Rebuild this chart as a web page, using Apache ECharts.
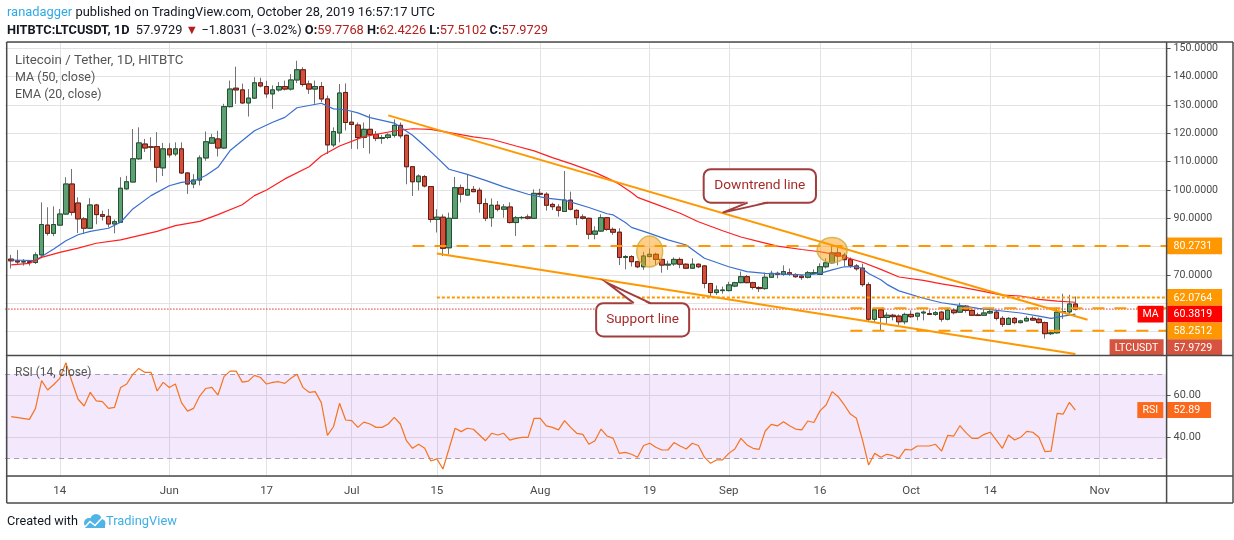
<!DOCTYPE html>
<html><head><meta charset="utf-8">
<script src="https://cdn.jsdelivr.net/npm/echarts@6/dist/echarts.min.js"></script>
<style>html,body{margin:0;padding:0;background:#fff;}#c{width:1234px;height:540px;}</style>
</head><body><div id="c"></div>
<script>
const FONT = "Roboto, 'Noto Sans', sans-serif";

// ---- categories: first category 2019-05-05 (empty), candles start 2019-05-06
const axisStart = '2019-05-05';
const axisDays = 192;
const tickDates = ['2019-05-14','2019-06-01','2019-06-17','2019-07-01','2019-07-15','2019-08-01','2019-08-19','2019-09-01','2019-09-16','2019-10-01','2019-10-14','2019-11-01'];
const tickLabels = ['14','Jun','17','Jul','15','Aug','19','Sep','16','Oct','14','Nov'];

// ---- OHLC, daily from 2019-05-06 to 2019-10-28
const open = [75.6,75.0,74.6,74.7,74.4,77.1,87.6,84.7,87.6,91.5,102.1,95.4,89.8,86.5,94.7,91.3,90.7,88.0,88.6,100.4,
102.8,111.0,116.2,115.2,115.3,107.8,114.5,112.7,114.5,106.0,102.1,103.5,111.3,116.5,118.0,114.8,129.4,135.9,135.3,130.7,
132.4,137.8,136.5,133.9,135.3,136.5,135.6,138.8,142.4,137.4,135.6,136.5,132.1,115.9,120.1,134.4,123.9,122.9,118.5,121.4,
119.6,118.2,118.5,119.3,122.8,119.3,108.2,102.9,104.7,101.2,89.6,90.4,79.6,90.0,100.8,98.2,100.2,99.9,95.2,90.2,
94.6,93.2,94.0,88.5,90.2,90.5,90.0,98.8,98.5,94.9,94.0,92.4,96.4,92.8,90.5,90.0,84.4,85.5,90.2,86.1,
85.1,76.2,76.5,74.7,72.9,76.5,77.3,75.5,73.5,73.9,75.5,73.8,72.4,73.8,73.2,67.0,63.8,64.5,64.5,66.1,
67.3,69.4,67.3,65.6,65.2,69.2,70.6,70.2,70.8,70.2,69.6,69.2,70.6,70.2,72.9,74.3,77.8,77.0,75.4,73.2,
72.4,66.6,54.4,57.7,55.0,55.8,55.5,53.5,56.1,55.5,56.6,56.4,56.1,56.9,54.4,57.6,56.9,59.0,57.5,55.9,
55.8,56.6,56.9,54.7,52.6,54.7,53.2,53.8,54.7,54.4,53.2,49.3,49.6,56.9,57.0,59.7768];
const high = [77.1,78.8,75.6,75.3,78.0,95.6,93.9,94.2,93.3,104.5,107.4,97.4,90.4,97.1,95.1,92.7,93.3,89.6,104.5,105.0,
121.5,122.1,118.0,118.6,120.4,116.6,116.5,116.8,116.8,106.2,105.6,112.2,120.6,119.8,120.9,130.4,138.6,143.5,137.5,135.6,
139.8,139.6,138.5,136.9,138.1,138.6,140.9,145.6,143.3,138.6,138.6,138.1,133.3,122.1,137.4,137.6,127.4,123.8,123.8,126.7,
120.8,119.4,120.0,124.9,123.8,119.5,108.4,105.5,105.3,101.4,93.2,91.4,92.0,104.6,101.9,105.5,101.4,100.8,97.0,97.0,
96.1,95.0,95.6,90.8,90.8,91.4,100.2,100.4,99.2,95.5,95.0,106.7,99.4,93.2,91.4,90.2,87.2,91.4,90.4,86.8,
86.5,77.0,77.0,75.0,78.2,79.4,77.9,75.9,75.0,76.2,76.2,74.1,75.9,74.1,73.5,67.2,66.3,65.9,67.6,67.6,
71.2,70.0,67.6,66.0,70.8,71.5,71.2,73.4,72.3,70.6,70.0,71.4,72.0,74.1,75.9,80.8,80.2,77.8,76.2,73.9,
74.0,67.4,58.3,58.3,56.8,56.3,56.1,56.7,57.5,56.7,57.5,57.6,57.3,57.3,58.4,58.2,60.2,59.4,57.9,56.7,
57.9,57.6,57.6,55.5,55.2,55.2,54.2,55.5,55.5,55.0,53.6,50.2,58.5,63.4,63.0,62.4226];
const low = [72.3,73.9,73.3,73.3,73.9,76.8,83.9,83.7,87.3,91.2,91.0,84.8,84.6,86.3,87.9,89.2,86.8,84.7,88.4,100.1,
102.8,110.6,113.4,110.4,102.7,104.9,111.4,111.9,105.6,98.6,100.6,101.6,110.3,116.2,111.8,114.5,129.1,130.4,130.4,125.9,
132.1,136.2,132.5,128.6,134.7,135.1,135.1,137.7,136.5,133.9,130.4,131.0,112.7,115.1,116.8,121.0,114.5,114.4,114.8,112.8,
117.2,116.3,117.9,118.5,118.2,102.0,97.9,99.8,100.9,88.5,85.0,76.7,77.3,90.0,95.6,98.0,99.2,92.0,89.0,87.0,
92.4,90.2,88.2,83.8,89.6,89.6,90.0,97.9,92.7,92.9,90.6,92.4,92.8,87.6,89.6,82.6,82.6,85.2,85.6,84.2,
73.5,72.0,73.0,72.4,71.8,76.2,73.5,70.8,71.8,73.2,72.4,72.1,72.1,72.4,65.3,62.4,63.0,63.4,64.2,65.7,
67.1,67.1,64.9,64.0,64.8,69.2,68.8,69.7,69.7,69.0,68.3,68.8,70.2,70.0,72.3,74.1,73.4,73.1,72.5,71.5,
65.9,53.5,53.3,50.2,52.8,54.0,52.4,52.6,54.9,54.0,54.0,55.9,55.6,53.5,54.0,56.1,56.7,56.7,55.6,55.6,
55.6,56.2,54.0,51.7,52.4,52.6,52.9,53.6,53.8,52.9,47.6,48.8,49.3,54.5,56.0,57.5102];
const close = [75.0,74.6,74.7,74.4,77.1,87.8,84.7,87.8,91.5,102.1,92.1,89.8,86.5,94.7,91.3,90.7,88.0,88.8,100.6,102.9,
111.0,116.6,114.8,115.1,108.0,114.5,112.4,114.5,106.0,102.1,103.5,111.3,117.0,118.4,114.8,129.4,135.6,135.3,130.7,132.4,
137.8,136.7,133.9,135.3,136.5,135.6,138.8,142.4,137.2,135.6,136.5,132.1,115.9,120.6,134.2,123.8,123.1,118.5,121.4,119.6,
118.2,118.5,119.4,122.8,119.1,108.2,102.9,104.9,101.4,89.6,90.4,79.4,90.0,100.8,98.5,100.2,99.4,95.2,90.0,94.6,
93.2,94.0,88.5,90.2,90.3,90.0,98.8,98.5,94.6,94.1,92.8,96.4,93.2,90.2,90.0,84.4,85.5,90.2,86.1,85.1,
76.2,76.5,74.7,72.9,76.7,77.3,75.5,73.5,73.8,75.5,73.8,72.4,73.8,72.9,67.0,63.8,64.7,64.7,66.5,67.3,
69.4,67.3,65.6,65.2,69.2,70.6,70.2,71.2,70.2,69.4,69.1,70.8,70.8,72.9,74.3,77.8,76.7,75.4,73.4,72.2,
66.6,54.4,57.7,55.0,55.8,55.3,53.5,56.1,55.3,56.5,56.9,56.1,56.7,54.4,57.6,56.7,59.0,57.5,55.8,55.7,
56.6,57.1,54.7,52.6,54.7,53.2,53.8,54.7,54.1,53.2,49.3,49.6,56.9,57.1,59.78,57.9729];

// ---- indicator readings [candle index, value]
const ma50 = [[0,73.6],[3,74.1],[5,76.2],[8,78.0],[11,79.5],[14,81.2],[18,82.4],[21,83.9],[24,85.4],[27,87.4],[31,88.9],[34,91.3],
[38,94.8],[40,98.0],[42,100.0],[45,103.9],[49,108.2],[51,112.0],[54,115.5],[58,118.8],[63,120.8],[66,121.6],[69,121.4],[73,119.9],
[76,118.7],[79,117.9],[83,115.5],[86,113.8],[89,111.4],[92,109.3],[96,106.2],[99,103.2],[100,102.0],[102,99.1],[103,97.4],[106,95.0],
[110,91.8],[113,88.8],[117,85.6],[120,83.4],[123,81.8],[126,80.2],[130,79.0],[133,78.2],[136,77.0],[140,74.5],[143,72.0],[146,69.3],
[150,68.1],[153,66.9],[156,65.8],[159,64.6],[163,62.9],[166,62.6],[169,61.4],[172,60.8],[175,60.38]];
const ema20 = [[0,75.3],[4,75.1],[5,76.5],[7,79.2],[9,82.1],[11,84.2],[13,85.4],[16,86.5],[18,88.6],[20,93.3],[23,98.0],[26,101.5],
[28,102.7],[30,103.1],[32,105.1],[34,108.0],[36,113.9],[40,120.9],[43,123.9],[45,125.6],[47,129.0],[51,130.6],[53,128.6],[55,128.3],
[57,127.2],[59,125.5],[63,123.6],[66,119.3],[68,115.5],[70,111.5],[72,107.3],[75,105.5],[78,103.4],[81,101.1],[85,98.5],[88,97.1],
[91,96.4],[95,93.8],[98,91.6],[99,91.2],[101,88.5],[102,86.8],[105,84.7],[108,82.4],[111,80.6],[114,75.9],[118,72.9],[121,71.2],
[124,70.6],[128,70.2],[131,70.0],[133,70.6],[135,71.8],[137,72.9],[139,73.0],[140,72.2],[141,70.5],[143,68.3],[144,66.7],[146,64.4],
[150,61.8],[153,60.2],[156,59.3],[159,58.2],[163,57.3],[166,56.6],[169,55.5],[171,54.7],[173,55.5],[175,56.2]];
const rsi = [[0,49.8],[3,48.5],[4,53.7],[5,66.8],[6,62.4],[7,65.0],[8,67.9],[9,75.3],[10,66.3],[11,58.0],[12,54.8],[13,61.3],[14,57.2],
[15,56.9],[16,53.7],[17,54.2],[18,63.6],[19,65.2],[20,69.8],[21,72.6],[22,70.7],[23,70.7],[24,61.9],[25,66.0],[26,63.6],[27,65.2],
[28,56.4],[29,52.4],[30,53.7],[31,59.5],[32,63.1],[33,63.6],[34,60.0],[35,68.7],[36,71.3],[37,71.3],[38,66.1],[39,66.6],[40,69.3],
[41,68.3],[42,65.2],[43,66.0],[44,66.3],[45,65.5],[46,67.9],[47,69.8],[48,63.5],[49,61.3],[50,61.6],[51,56.4],[52,40.9],[53,45.0],
[54,56.1],[55,48.2],[56,47.9],[57,44.7],[58,47.2],[59,46.3],[60,44.7],[61,44.7],[62,46.3],[63,49.4],[64,46.3],[65,38.4],[66,34.8],
[67,36.7],[68,34.8],[69,28.8],[70,29.8],[71,25.0],[72,34.6],[73,44.3],[74,42.7],[75,44.3],[76,43.8],[77,41.1],[78,38.4],[79,41.9],
[80,41.1],[81,41.9],[82,38.7],[83,39.5],[84,40.0],[85,40.0],[86,49.0],[87,49.0],[88,45.4],[89,44.7],[90,43.5],[91,47.9],[92,44.7],
[93,41.9],[94,41.4],[95,36.7],[96,38.4],[97,43.9],[98,40.6],[99,39.5],[100,32.4],[101,32.9],[102,32.0],[103,30.6],[104,36.1],[105,37.2],
[106,35.3],[107,34.0],[108,34.0],[109,37.5],[110,35.9],[111,34.5],[112,37.2],[113,36.1],[114,30.6],[115,27.7],[116,29.3],[117,29.3],
[118,32.4],[119,34.5],[120,39.5],[121,36.4],[122,34.8],[123,34.3],[124,43.0],[125,46.1],[126,45.4],[127,47.4],[128,45.5],[129,43.9],
[130,43.5],[131,47.7],[132,47.0],[133,52.5],[134,55.3],[135,61.6],[136,59.2],[137,55.3],[138,51.0],[139,49.0],[140,38.7],[141,26.9],
[142,32.4],[143,30.6],[144,32.0],[145,31.3],[146,30.1],[147,34.3],[148,34.0],[149,35.9],[150,35.9],[151,35.9],[152,36.7],[153,33.5],
[154,40.9],[155,40.6],[156,45.5],[157,42.2],[158,39.5],[159,39.5],[160,41.4],[161,42.4],[162,38.7],[163,34.8],[164,41.1],[165,38.7],
[166,40.0],[167,42.8],[168,42.4],[169,40.0],[170,33.2],[171,33.5],[172,51.3],[173,51.0],[174,56.5],[175,52.89]];

// ---- drawings (candle index, price)
const hLineValues = [80.2731, 62.0764, 58.2512, 50.3];
const hLineStarts = [66, 70, 138, 138];
const hLineKinds = ['dash', 'dot', 'dash', 'dash'];
const lastPrice = 57.9729;
const maLast = 60.3819;
const downtrend = [[62, 126.3], [177, 54.2]];
const supportLine = [[70, 77.6], [175, 42.1]];
const ellipses = [[105, 78.3], [135, 78.8]];
const calloutTexts = ['Downtrend line', 'Support line'];
const calloutAnchors = [[117, 92.0], [98, 67.2]];
const priceLabelValues = [70, 90, 100, 110, 120, 130, 140, 150];
const rsiValue = 52.89;

// ---- text fitting helper (matches reference text widths)
const mctx = document.createElement('canvas').getContext('2d');
function tw(text, size, weight) { mctx.font = (weight || 'normal') + ' ' + size + 'px ' + FONT; return mctx.measureText(text).width; }
function fit(text, target, weight) { return Math.round(100 * target / tw(text, 100, weight) * 10) / 10; }

const priceFS = fit('150.0000', 44.5);
const rsiFS = fit('60.00', 27.3);
const dateFS = fit('Jun', 19);
const tagFS = fit('80.2731', 38.5);

// ---- build categories
const cats = [];
{ const t0 = Date.parse(axisStart + 'T00:00:00Z');
  for (let i = 0; i < axisDays; i++) cats.push(new Date(t0 + i * 86400000).toISOString().slice(0, 10)); }
const dateOf = k => cats[k + 1];
const lastCat = cats[cats.length - 1];
const tickIdx = new Set(tickDates.map(d => cats.indexOf(d)));
const labelOf = {}; tickDates.forEach((d, i) => labelOf[d] = tickLabels[i]);

const candleFull = open.map((o, k) => [dateOf(k), o, close[k], low[k], high[k]]);
const candleBody = open.map((o, k) => [dateOf(k), o, close[k], Math.min(o, close[k]), Math.max(o, close[k])]);
const toPts = arr => arr.map(p => [dateOf(p[0]), p[1]]);

const gridCol = '#e3e3e3';
const series = [
  { type: 'candlestick', xAxisIndex: 0, yAxisIndex: 0, barWidth: 5, silent: true, z: 3,
    encode: { x: 0, y: [1, 2, 3, 4] }, data: candleFull,
    itemStyle: { color: '#737375', color0: '#737375', borderColor: '#737375', borderColor0: '#737375', borderWidth: 1 } },
  { type: 'candlestick', xAxisIndex: 0, yAxisIndex: 0, barWidth: 5, silent: true, z: 4,
    encode: { x: 0, y: [1, 2, 3, 4] }, data: candleBody,
    itemStyle: { color: '#5f9f74', color0: '#d1503b', borderColor: '#1f5331', borderColor0: '#6a1c12', borderWidth: 1 } },
  { type: 'line', name: 'EMA20', xAxisIndex: 0, yAxisIndex: 0, data: toPts(ema20), symbol: 'none', silent: true, z: 5,
    lineStyle: { color: '#3a6fcf', width: 1.2 } },
  { type: 'line', name: 'MA50', xAxisIndex: 0, yAxisIndex: 0, data: toPts(ma50), symbol: 'none', silent: true, z: 5,
    lineStyle: { color: '#ff1f1f', width: 1.2 } },
  { type: 'line', xAxisIndex: 0, yAxisIndex: 0, data: [[cats[0], lastPrice], [lastCat, lastPrice]], symbol: 'none', silent: true, z: 2,
    lineStyle: { color: '#e0312b', width: 1, type: [1.5, 1.5] } }
];
hLineValues.forEach((v, i) => {
  series.push({ type: 'line', xAxisIndex: 0, yAxisIndex: 0, data: [[dateOf(hLineStarts[i]), v], [lastCat, v]], symbol: 'none', silent: true, z: 6,
    lineStyle: { color: '#ff9800', width: 2, type: hLineKinds[i] === 'dot' ? [3, 2] : [12, 10] } });
});
[downtrend, supportLine].forEach(l => {
  series.push({ type: 'line', xAxisIndex: 0, yAxisIndex: 0, data: toPts(l), symbol: 'none', silent: true, z: 7,
    lineStyle: { color: '#ff9800', width: 2 } });
});
series.push({ type: 'scatter', xAxisIndex: 0, yAxisIndex: 0, silent: true, z: 8,
  data: [{ value: [dateOf(ellipses[0][0]), ellipses[0][1]], symbolSize: [26, 31] },
         { value: [dateOf(ellipses[1][0]), ellipses[1][1]], symbolSize: [30, 25] }],
  itemStyle: { color: 'rgba(255,152,0,0.58)', borderColor: '#c9ad3e', borderWidth: 1.5 } });
series.push({ type: 'line', xAxisIndex: 1, yAxisIndex: 1, data: toPts(rsi), symbol: 'none', silent: true, z: 5,
  lineStyle: { color: '#f7731f', width: 1.2 },
  markArea: { silent: true, itemStyle: { color: 'rgba(149,48,226,0.11)' }, data: [[{ yAxis: 30 }, { yAxis: 70 }]] },
  markLine: { silent: true, symbol: 'none', label: { show: false },
    lineStyle: { color: '#a89bb3', type: [5, 4], width: 1 }, data: [{ yAxis: 30 }, { yAxis: 70 }] } });

const xBase = (gi) => ({
  type: 'category', gridIndex: gi, data: cats, boundaryGap: false,
  axisLine: { show: false }, axisTick: { show: false },
  axisLabel: gi === 1 ? { show: true, interval: (i) => tickIdx.has(i), formatter: (v) => labelOf[v] || '',
    color: '#4a4a4a', fontSize: dateFS, fontFamily: FONT, margin: 9 } : { show: false },
  splitLine: { show: true, interval: (i) => tickIdx.has(i), lineStyle: { color: gridCol, width: 1 } }
});

const option = {
  animation: false,
  backgroundColor: '#ffffff',
  grid: [
    { left: 5.1, right: 67.4, top: 42, height: 313.5 },
    { left: 5.1, right: 67.4, top: 355.5, height: 120.5 }
  ],
  xAxis: [xBase(0), xBase(1)],
  yAxis: [
    { type: 'value', gridIndex: 0, position: 'right', min: 41.6, max: 152.2, splitNumber: 11,
      axisLine: { show: false }, axisTick: { show: true, length: 4, lineStyle: { color: '#555' } },
      axisLabel: { color: '#4a4a4a', fontSize: priceFS, fontFamily: FONT, margin: 7, showMinLabel: false, showMaxLabel: false,
        formatter: (v) => { const r = Math.round(v * 100) / 100; return priceLabelValues.indexOf(r) >= 0 ? r.toFixed(4) : ''; } },
      splitLine: { show: true, lineStyle: { color: gridCol } } },
    { type: 'value', gridIndex: 1, position: 'right', min: 21.7, max: 78.7, splitNumber: 3,
      axisLine: { show: false }, axisTick: { show: true, length: 4, lineStyle: { color: '#555' } },
      axisLabel: { color: '#4a4a4a', fontSize: rsiFS, fontFamily: FONT, margin: 7, showMinLabel: false, showMaxLabel: false,
        formatter: (v) => (Math.abs(v - 40) < 0.01 || Math.abs(v - 60) < 0.01) ? v.toFixed(2) : '' },
      splitLine: { show: true, lineStyle: { color: gridCol } } }
  ],
  series: series
};

const chart = echarts.init(document.getElementById('c'), null, { renderer: 'canvas' });
chart.setOption(option);

// ---- annotation layer
const P = (k, v) => chart.convertToPixel({ gridIndex: 0 }, [dateOf(k), v]);
const yMain = (v) => chart.convertToPixel({ yAxisIndex: 0 }, v);
const yRsi = (v) => chart.convertToPixel({ yAxisIndex: 1 }, v);
const AX = 1166.6, RIGHT = 1233, TOP = 42, BOT = 503, LEFT = 6.7;
const g = [];
const txt = (x, y, text, o) => g.push({ type: 'text', z: 100, style: Object.assign({ x, y, text, fill: '#555', fontSize: 14, fontFamily: FONT, align: 'left', verticalAlign: 'middle' }, o || {}) });
const box = (x, y, w, h, fill) => g.push({ type: 'rect', z: 99, shape: { x, y, width: w, height: h }, style: { fill } });
const line = (x1, y1, x2, y2, c, w) => g.push({ type: 'line', z: 101, shape: { x1, y1, x2, y2 }, style: { stroke: c || '#4a4a4a', lineWidth: w || 1.5 } });

// frame
line(LEFT, TOP, RIGHT, TOP); line(LEFT, BOT, RIGHT, BOT); line(LEFT, TOP, LEFT, BOT); line(RIGHT, TOP, RIGHT, BOT);
line(LEFT, 355.5, RIGHT, 355.5); line(LEFT, 476, RIGHT, 476); line(AX, TOP, AX, BOT);

// header
const h1 = 'ranadagger published on TradingView.com, October 28, 2019 16:57:17 UTC';
const h1FS = fit(h1, 427);
g.push({ type: 'text', z: 100, style: { x: 7, y: 13, verticalAlign: 'middle', fontFamily: FONT, fontSize: h1FS,
  text: '{u|ranadagger} {t|published on TradingView.com, October 28, 2019 16:57:17 UTC}',
  rich: { u: { fill: '#2fa8e6', fontSize: h1FS, fontFamily: FONT }, t: { fill: '#131722', fontSize: h1FS, fontFamily: FONT } } } });
const h2parts = [['HITBTC:LTCUSDT, 1D', 'b'], ['  57.9729 ', 'n'], ['▼', 'r'], [' −1.8031 (−3.02%) ', 'n'], ['O:', 'b'], ['59.7768', 'r'], [' ', 'n'],
  ['H:', 'b'], ['62.4226', 'r'], [' ', 'n'], ['L:', 'b'], ['57.5102', 'r'], [' ', 'n'], ['C:', 'b'], ['57.9729', 'r']];
const h2w100 = h2parts.reduce((s, p) => s + tw(p[0], 100, p[1] === 'b' ? 'bold' : 'normal'), 0);
const h2FS = Math.round(100 * 540 / h2w100 * 10) / 10;
g.push({ type: 'text', z: 100, style: { x: 7, y: 31, verticalAlign: 'middle', fontFamily: FONT, fontSize: h2FS,
  text: h2parts.map(p => '{' + p[1] + '|' + p[0] + '}').join(''),
  rich: { b: { fill: '#131722', fontWeight: 'bold', fontSize: h2FS, fontFamily: FONT },
          n: { fill: '#131722', fontSize: h2FS, fontFamily: FONT },
          r: { fill: '#b3201f', fontSize: h2FS, fontFamily: FONT } } } });

// pane legends
const legFS = fit('Litecoin / Tether, 1D, HITBTC', 169);
txt(15, 61, 'Litecoin / Tether, 1D, HITBTC', { fontSize: legFS });
txt(15, 78, 'MA (50, close)', { fontSize: fit('MA (50, close)', 80) });
txt(15, 95, 'EMA (20, close)', { fontSize: fit('EMA (20, close)', 87) });
txt(15, 373, 'RSI (14, close)', { fontSize: fit('RSI (14, close)', 76.6) });

// callouts
const calloutTargets = [91, 72.6];
function callout(i, dir) {
  const tip = P(calloutAnchors[i][0], calloutAnchors[i][1]);
  let bx, by, bw, bh, b1, b2, baseY;
  if (dir === 'up') { bx = tip[0] - 19; by = tip[1] - 43.4; bw = 112.3; bh = 33.4; b1 = tip[0] + 25; b2 = tip[0] + 45; baseY = by + bh; }
  else { bx = tip[0] - 11; by = tip[1] + 20.2; bw = 93; bh = 33.3; b1 = tip[0] + 26.6; b2 = tip[0] + 43.3; baseY = by; }
  const col = '#a23d3d';
  g.push({ type: 'rect', z: 110, shape: { x: bx, y: by, width: bw, height: bh, r: 7 }, style: { fill: '#ffffff', stroke: col, lineWidth: 2 } });
  const inset = dir === 'up' ? -1.5 : 1.5;
  g.push({ type: 'polygon', z: 111, shape: { points: [[b1, baseY + inset], tip, [b2, baseY + inset]] }, style: { fill: '#ffffff' } });
  g.push({ type: 'polyline', z: 112, shape: { points: [[b1, baseY], tip, [b2, baseY]] }, style: { stroke: col, lineWidth: 2, fill: null } });
  g.push({ type: 'text', z: 113, style: { x: bx + bw / 2, y: by + bh / 2, text: calloutTexts[i], fill: '#a62b2b',
    fontSize: fit(calloutTexts[i], calloutTargets[i]), fontFamily: FONT, align: 'center', verticalAlign: 'middle' } });
}
callout(0, 'up');
callout(1, 'down');

// price-axis tags
const TH = 16.7, TW = 55;
function tag(yc, value, bg, name, nameW) {
  box(AX + 0.5, yc - TH / 2, TW, TH, bg);
  txt(AX + 7, yc + 0.5, value, { fill: '#ffffff', fontSize: tagFS });
  if (name) {
    box(AX - 3 - nameW, yc - TH / 2, nameW, TH, bg);
    txt(AX - 3 - nameW / 2, yc + 0.5, name, { fill: '#ffffff', fontSize: tagFS, align: 'center' });
  }
}
tag(yMain(hLineValues[0]), hLineValues[0].toFixed(4), '#ff9800');
const y62 = yMain(hLineValues[1]);
tag(y62, hLineValues[1].toFixed(4), '#ff9800');
tag(y62 + TH, maLast.toFixed(4), '#ff0000', 'MA', 26);
tag(y62 + 2 * TH, hLineValues[2].toFixed(4), '#ff9800');
tag(y62 + 3 * TH, lastPrice.toFixed(4), '#d5533f', 'LTCUSDT', 54);
// RSI tag
const yr = yRsi(rsiValue);
box(AX + 0.5, yr - 8, 44, 16, '#fb6a1c'); txt(AX + 7, yr + 0.5, rsiValue.toFixed(2), { fill: '#ffffff', fontSize: tagFS });
box(AX - 29.3, yr - 8, 26, 16, '#fb6a1c'); txt(AX - 16.3, yr + 0.5, 'RSI', { fill: '#ffffff', fontSize: tagFS, align: 'center' });

// footer
txt(7, 522, 'Created with', { fill: '#131722', fontSize: fit('Created with', 71) });
g.push({ type: 'circle', z: 100, shape: { cx: 89, cy: 523, r: 5 }, style: { fill: '#50b5e6' } });
g.push({ type: 'circle', z: 100, shape: { cx: 96, cy: 519.5, r: 5.5 }, style: { fill: '#50b5e6' } });
g.push({ type: 'circle', z: 100, shape: { cx: 101, cy: 523.5, r: 4.5 }, style: { fill: '#50b5e6' } });
g.push({ type: 'rect', z: 100, shape: { x: 85, y: 523, width: 20, height: 5 }, style: { fill: '#50b5e6' } });
g.push({ type: 'polyline', z: 101, shape: { points: [[85, 527], [90, 521.5], [95, 525.5], [102, 518]] }, style: { stroke: '#ffffff', lineWidth: 1.6, fill: null } });
txt(106, 522, 'TradingView', { fill: '#3eaee6', fontSize: fit('TradingView', 71) });

chart.setOption({ graphic: { elements: g } });
</script></body></html>
